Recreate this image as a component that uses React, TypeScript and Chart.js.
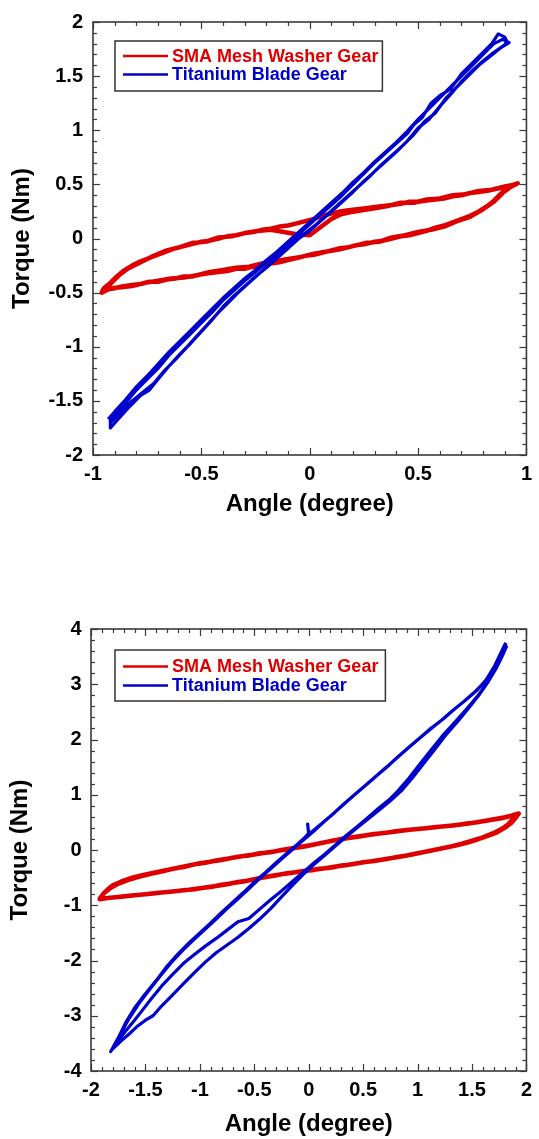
import React, { useEffect, useRef } from "react";
import { Chart, registerables } from "chart.js";

Chart.register(...registerables);

const FONT = '"Liberation Sans", Arial, Helvetica, sans-serif';
const RED = "rgb(222,0,0)";
const BLUE = "rgb(0,0,205)";

const seriesLabels = ["SMA Mesh Washer Gear", "Titanium Blade Gear"];

// ---------- Top chart (±1 degree) ----------
const topXTicks = [-1, -0.5, 0, 0.5, 1];
const topYTicks = [-2, -1.5, -1, -0.5, 0, 0.5, 1, 1.5, 2];

const topRedLower1 = [[-0.96,-0.50],[-0.93,-0.47],[-0.90,-0.46],[-0.86,-0.44],[-0.82,-0.43],[-0.78,-0.42],[-0.74,-0.40],[-0.70,-0.40],[-0.66,-0.38],[-0.62,-0.37],[-0.58,-0.35],[-0.54,-0.35],[-0.50,-0.33],[-0.46,-0.32],[-0.42,-0.31],[-0.38,-0.30],[-0.34,-0.28],[-0.30,-0.28],[-0.26,-0.26],[-0.22,-0.25],[-0.18,-0.23],[-0.14,-0.22],[-0.10,-0.20],[-0.06,-0.18],[-0.02,-0.16],[0.02,-0.15],[0.06,-0.13],[0.10,-0.11],[0.14,-0.09],[0.18,-0.08],[0.22,-0.06],[0.26,-0.05],[0.30,-0.03],[0.34,-0.02],[0.38,0.00],[0.42,0.02],[0.46,0.03],[0.50,0.05],[0.54,0.07],[0.58,0.10],[0.62,0.12],[0.66,0.15],[0.70,0.18],[0.74,0.21],[0.78,0.25],[0.82,0.30],[0.85,0.35],[0.88,0.41],[0.91,0.46],[0.94,0.49],[0.96,0.51]];
const topRedUpper1 = [[0.96,0.51],[0.93,0.49],[0.90,0.47],[0.86,0.46],[0.82,0.44],[0.78,0.43],[0.74,0.42],[0.70,0.40],[0.66,0.39],[0.62,0.37],[0.58,0.36],[0.54,0.35],[0.50,0.34],[0.46,0.34],[0.42,0.32],[0.38,0.31],[0.34,0.30],[0.30,0.29],[0.26,0.28],[0.22,0.27],[0.18,0.26],[0.14,0.25],[0.10,0.23],[0.06,0.21],[0.02,0.18],[-0.02,0.16],[-0.06,0.14],[-0.10,0.12],[-0.14,0.11],[-0.18,0.09],[-0.22,0.08],[-0.26,0.06],[-0.30,0.05],[-0.34,0.03],[-0.38,0.02],[-0.42,0.00],[-0.46,-0.02],[-0.50,-0.03],[-0.54,-0.05],[-0.58,-0.07],[-0.62,-0.09],[-0.66,-0.12],[-0.70,-0.15],[-0.74,-0.18],[-0.78,-0.21],[-0.82,-0.25],[-0.86,-0.30],[-0.89,-0.35],[-0.92,-0.41],[-0.95,-0.46],[-0.96,-0.50]];
const topRedLower2 = [[-0.96,-0.50],[-0.92,-0.46],[-0.87,-0.45],[-0.82,-0.44],[-0.76,-0.41],[-0.70,-0.39],[-0.64,-0.37],[-0.58,-0.36],[-0.52,-0.34],[-0.46,-0.31],[-0.40,-0.29],[-0.34,-0.27],[-0.28,-0.26],[-0.22,-0.23],[-0.16,-0.21],[-0.10,-0.19],[-0.04,-0.17],[0.02,-0.14],[0.08,-0.12],[0.14,-0.10],[0.20,-0.07],[0.26,-0.04],[0.32,-0.03],[0.38,0.01],[0.44,0.03],[0.50,0.06],[0.56,0.08],[0.62,0.11],[0.68,0.16],[0.74,0.20],[0.80,0.27],[0.85,0.34],[0.89,0.42],[0.93,0.48],[0.95,0.50]];
const topRedUpper2 = [[0.95,0.50],[0.90,0.48],[0.84,0.45],[0.78,0.44],[0.72,0.41],[0.66,0.40],[0.60,0.37],[0.54,0.36],[0.48,0.33],[0.42,0.33],[0.36,0.30],[0.30,0.28],[0.24,0.26],[0.18,0.24],[0.14,0.22],[0.10,0.18],[0.06,0.12],[0.02,0.06],[0.00,0.03],[-0.06,0.04],[-0.12,0.06],[-0.18,0.08],[-0.24,0.07],[-0.30,0.05],[-0.36,0.02],[-0.42,0.01],[-0.48,-0.03],[-0.54,-0.04],[-0.60,-0.08],[-0.66,-0.11],[-0.72,-0.16],[-0.78,-0.22],[-0.84,-0.28],[-0.88,-0.34],[-0.92,-0.42],[-0.95,-0.47]];

const topBlueUp1 = [[-0.92,-1.75],[-0.88,-1.66],[-0.83,-1.55],[-0.78,-1.45],[-0.74,-1.40],[-0.70,-1.30],[-0.65,-1.18],[-0.60,-1.07],[-0.55,-0.97],[-0.50,-0.86],[-0.45,-0.75],[-0.40,-0.63],[-0.35,-0.53],[-0.30,-0.44],[-0.25,-0.35],[-0.20,-0.27],[-0.15,-0.18],[-0.10,-0.09],[-0.05,0.00],[0.00,0.07],[0.05,0.16],[0.10,0.25],[0.15,0.34],[0.20,0.43],[0.25,0.53],[0.30,0.62],[0.35,0.71],[0.40,0.80],[0.45,0.90],[0.50,1.02],[0.55,1.10],[0.60,1.22],[0.65,1.33],[0.70,1.45],[0.75,1.55],[0.80,1.64],[0.85,1.72],[0.90,1.79],[0.91,1.82]];
const topBlueDown1 = [[0.91,1.82],[0.90,1.86],[0.87,1.89],[0.84,1.80],[0.80,1.72],[0.75,1.62],[0.70,1.52],[0.65,1.38],[0.60,1.32],[0.56,1.25],[0.52,1.12],[0.48,1.05],[0.45,0.97],[0.40,0.88],[0.35,0.79],[0.30,0.70],[0.25,0.60],[0.20,0.50],[0.15,0.40],[0.10,0.31],[0.05,0.22],[0.00,0.13],[-0.05,0.04],[-0.10,-0.05],[-0.15,-0.14],[-0.20,-0.22],[-0.25,-0.31],[-0.30,-0.39],[-0.35,-0.48],[-0.40,-0.57],[-0.45,-0.68],[-0.50,-0.78],[-0.55,-0.88],[-0.60,-0.98],[-0.65,-1.08],[-0.70,-1.20],[-0.75,-1.30],[-0.80,-1.40],[-0.85,-1.52],[-0.90,-1.62],[-0.92,-1.68],[-0.92,-1.75]];
const topBlueUp2 = [[-0.92,-1.70],[-0.87,-1.60],[-0.82,-1.50],[-0.77,-1.42],[-0.72,-1.34],[-0.67,-1.22],[-0.62,-1.12],[-0.57,-1.01],[-0.52,-0.90],[-0.47,-0.79],[-0.42,-0.68],[-0.37,-0.58],[-0.32,-0.48],[-0.27,-0.39],[-0.22,-0.30],[-0.17,-0.21],[-0.12,-0.12],[-0.07,-0.03],[-0.02,0.05],[0.03,0.13],[0.08,0.22],[0.13,0.31],[0.18,0.40],[0.23,0.49],[0.28,0.58],[0.33,0.68],[0.38,0.77],[0.43,0.86],[0.48,0.96],[0.53,1.08],[0.58,1.16],[0.63,1.30],[0.68,1.40],[0.73,1.50],[0.78,1.60],[0.83,1.68],[0.88,1.76],[0.92,1.81]];
const topBlueDown2 = [[0.92,1.81],[0.89,1.84],[0.85,1.80],[0.80,1.70],[0.75,1.60],[0.70,1.50],[0.65,1.40],[0.60,1.30],[0.55,1.20],[0.50,1.10],[0.45,0.99],[0.40,0.89],[0.35,0.80],[0.30,0.71],[0.25,0.61],[0.20,0.52],[0.15,0.42],[0.10,0.33],[0.05,0.24],[0.00,0.15],[-0.05,0.06],[-0.10,-0.03],[-0.15,-0.12],[-0.20,-0.20],[-0.25,-0.29],[-0.30,-0.37],[-0.35,-0.46],[-0.40,-0.55],[-0.45,-0.65],[-0.50,-0.75],[-0.55,-0.85],[-0.60,-0.95],[-0.65,-1.05],[-0.70,-1.16],[-0.75,-1.27],[-0.80,-1.37],[-0.85,-1.49],[-0.90,-1.60],[-0.93,-1.67]];

// ---------- Bottom chart (±2 degree) ----------
const botXTicks = [-2, -1.5, -1, -0.5, 0, 0.5, 1, 1.5, 2];
const botYTicks = [-4, -3, -2, -1, 0, 1, 2, 3, 4];

const botRedUpper1 = [[-1.92,-0.89],[-1.89,-0.80],[-1.85,-0.72],[-1.80,-0.64],[-1.72,-0.57],[-1.62,-0.50],[-1.52,-0.45],[-1.40,-0.40],[-1.30,-0.36],[-1.20,-0.32],[-1.10,-0.28],[-1.00,-0.24],[-0.90,-0.21],[-0.80,-0.18],[-0.70,-0.14],[-0.60,-0.11],[-0.50,-0.08],[-0.40,-0.05],[-0.30,-0.02],[-0.20,0.01],[-0.10,0.05],[0.00,0.08],[0.10,0.12],[0.20,0.16],[0.30,0.20],[0.40,0.23],[0.50,0.26],[0.60,0.29],[0.70,0.31],[0.80,0.34],[0.90,0.36],[1.00,0.38],[1.10,0.40],[1.20,0.42],[1.30,0.44],[1.40,0.46],[1.50,0.49],[1.60,0.52],[1.70,0.55],[1.78,0.58],[1.86,0.62],[1.93,0.66]];
const botRedLower1 = [[1.93,0.66],[1.90,0.58],[1.86,0.49],[1.80,0.40],[1.73,0.32],[1.65,0.26],[1.55,0.19],[1.45,0.13],[1.35,0.08],[1.25,0.04],[1.15,0.00],[1.05,-0.04],[0.95,-0.08],[0.85,-0.12],[0.75,-0.15],[0.65,-0.18],[0.55,-0.21],[0.45,-0.24],[0.35,-0.27],[0.25,-0.30],[0.15,-0.33],[0.05,-0.36],[-0.05,-0.38],[-0.15,-0.41],[-0.25,-0.44],[-0.35,-0.47],[-0.45,-0.51],[-0.55,-0.55],[-0.65,-0.58],[-0.75,-0.62],[-0.85,-0.65],[-0.95,-0.68],[-1.05,-0.71],[-1.15,-0.73],[-1.25,-0.75],[-1.35,-0.77],[-1.45,-0.79],[-1.55,-0.81],[-1.65,-0.83],[-1.75,-0.85],[-1.85,-0.87],[-1.92,-0.89]];
const botRedUpper2 = [[-1.92,-0.88],[-1.88,-0.78],[-1.83,-0.70],[-1.76,-0.62],[-1.67,-0.55],[-1.57,-0.49],[-1.45,-0.43],[-1.35,-0.39],[-1.25,-0.34],[-1.15,-0.31],[-1.05,-0.26],[-0.95,-0.23],[-0.85,-0.19],[-0.75,-0.16],[-0.65,-0.12],[-0.55,-0.10],[-0.45,-0.06],[-0.35,-0.04],[-0.25,0.00],[-0.15,0.03],[-0.05,0.06],[0.05,0.10],[0.15,0.14],[0.25,0.18],[0.35,0.21],[0.45,0.24],[0.55,0.27],[0.65,0.30],[0.75,0.32],[0.85,0.35],[0.95,0.37],[1.05,0.39],[1.15,0.41],[1.25,0.43],[1.35,0.45],[1.45,0.48],[1.55,0.50],[1.65,0.54],[1.74,0.57],[1.82,0.60],[1.90,0.64]];
const botRedLower2 = [[1.90,0.64],[1.87,0.55],[1.83,0.46],[1.77,0.38],[1.69,0.30],[1.60,0.23],[1.50,0.17],[1.40,0.11],[1.30,0.06],[1.20,0.02],[1.10,-0.02],[1.00,-0.06],[0.90,-0.10],[0.80,-0.13],[0.70,-0.17],[0.60,-0.20],[0.50,-0.22],[0.40,-0.26],[0.30,-0.28],[0.20,-0.32],[0.10,-0.34],[0.00,-0.37],[-0.10,-0.40],[-0.20,-0.42],[-0.30,-0.46],[-0.40,-0.49],[-0.50,-0.53],[-0.60,-0.57],[-0.70,-0.60],[-0.80,-0.63],[-0.90,-0.67],[-1.00,-0.69],[-1.10,-0.72],[-1.20,-0.74],[-1.30,-0.76],[-1.40,-0.78],[-1.50,-0.80],[-1.60,-0.82],[-1.70,-0.84],[-1.80,-0.86],[-1.90,-0.88]];

const botBlueDown1 = [[1.81,3.75],[1.76,3.55],[1.70,3.30],[1.62,3.05],[1.52,2.85],[1.42,2.68],[1.32,2.52],[1.22,2.35],[1.12,2.20],[1.02,2.03],[0.92,1.86],[0.82,1.69],[0.72,1.51],[0.62,1.34],[0.52,1.17],[0.42,1.00],[0.32,0.83],[0.22,0.65],[0.12,0.48],[0.04,0.35],[0.00,0.29],[-0.01,0.47],[0.00,0.30],[-0.04,0.22],[-0.10,0.11],[-0.20,-0.06],[-0.30,-0.23],[-0.40,-0.41],[-0.50,-0.58],[-0.60,-0.77],[-0.70,-0.95],[-0.80,-1.13],[-0.90,-1.32],[-1.00,-1.50],[-1.10,-1.68],[-1.20,-1.88],[-1.30,-2.10],[-1.40,-2.36],[-1.50,-2.60],[-1.60,-2.86],[-1.68,-3.12],[-1.75,-3.40],[-1.82,-3.65]];
const botBlueUp1 = [[-1.82,-3.65],[-1.75,-3.45],[-1.68,-3.27],[-1.60,-3.08],[-1.52,-2.88],[-1.45,-2.70],[-1.35,-2.46],[-1.25,-2.25],[-1.15,-2.05],[-1.05,-1.89],[-0.95,-1.74],[-0.85,-1.60],[-0.75,-1.45],[-0.65,-1.30],[-0.55,-1.24],[-0.45,-1.07],[-0.35,-0.90],[-0.25,-0.74],[-0.15,-0.57],[-0.05,-0.40],[0.05,-0.23],[0.15,-0.07],[0.25,0.10],[0.35,0.27],[0.45,0.43],[0.55,0.60],[0.65,0.77],[0.75,0.93],[0.82,1.07],[0.92,1.30],[1.02,1.55],[1.12,1.80],[1.23,2.07],[1.35,2.33],[1.45,2.55],[1.55,2.78],[1.63,3.00],[1.70,3.22],[1.76,3.45],[1.81,3.72]];
const botBlueDown2 = [[1.81,3.72],[1.77,3.58],[1.71,3.34],[1.63,3.08],[1.54,2.88],[1.44,2.71],[1.34,2.55],[1.24,2.38],[1.14,2.22],[1.04,2.06],[0.94,1.89],[0.84,1.72],[0.74,1.54],[0.64,1.37],[0.54,1.20],[0.44,1.03],[0.34,0.86],[0.24,0.68],[0.14,0.51],[0.04,0.33],[-0.06,0.16],[-0.16,-0.01],[-0.26,-0.18],[-0.36,-0.36],[-0.46,-0.53],[-0.56,-0.72],[-0.66,-0.90],[-0.76,-1.08],[-0.86,-1.27],[-0.96,-1.45],[-1.06,-1.63],[-1.16,-1.82],[-1.26,-2.03],[-1.36,-2.27],[-1.46,-2.52],[-1.56,-2.78],[-1.65,-3.05],[-1.73,-3.33],[-1.80,-3.60]];
const botBlueUp2 = [[-1.80,-3.60],[-1.72,-3.45],[-1.65,-3.33],[-1.58,-3.20],[-1.50,-3.08],[-1.43,-3.00],[-1.35,-2.82],[-1.25,-2.62],[-1.15,-2.42],[-1.05,-2.22],[-0.95,-2.03],[-0.85,-1.86],[-0.75,-1.72],[-0.65,-1.58],[-0.55,-1.42],[-0.45,-1.25],[-0.35,-1.06],[-0.25,-0.85],[-0.15,-0.64],[-0.05,-0.44],[0.05,-0.26],[0.15,-0.09],[0.25,0.08],[0.35,0.25],[0.45,0.41],[0.55,0.57],[0.65,0.73],[0.75,0.89],[0.85,1.07],[0.95,1.30],[1.05,1.55],[1.15,1.80],[1.25,2.06],[1.37,2.33],[1.47,2.57],[1.57,2.82],[1.65,3.05],[1.72,3.28],[1.78,3.52],[1.82,3.70]];

const toXY = (...parts: number[][][]) =>
  parts.flat().map(([x, y]) => ({ x, y }));

const framePlugin = {
  id: "frame",
  afterDatasetsDraw(chart: any, _args: any, o: any) {
    const { ctx, chartArea: a, scales } = chart;
    const xs = scales.x;
    const ys = scales.y;
    ctx.save();
    ctx.strokeStyle = "#3a3a3a";
    const seg = (x1: number, y1: number, x2: number, y2: number) => {
      ctx.beginPath();
      ctx.moveTo(x1, y1);
      ctx.lineTo(x2, y2);
      ctx.stroke();
    };
    const isMajor = (v: number, m: number) =>
      Math.abs(v / m - Math.round(v / m)) < 1e-6;
    ctx.lineWidth = 1.2;
    const nx = Math.round((xs.max - xs.min) / o.xMinor);
    for (let i = 0; i <= nx; i++) {
      const v = xs.min + i * o.xMinor;
      const len = isMajor(v, o.xMajor) ? 7 : 4;
      const p = Math.round(xs.getPixelForValue(v)) + 0.5;
      seg(p, a.bottom, p, a.bottom - len);
      seg(p, a.top, p, a.top + len);
    }
    const ny = Math.round((ys.max - ys.min) / o.yMinor);
    for (let i = 0; i <= ny; i++) {
      const v = ys.min + i * o.yMinor;
      const len = isMajor(v, o.yMajor) ? 7 : 4;
      const p = Math.round(ys.getPixelForValue(v)) + 0.5;
      seg(a.left, p, a.left + len, p);
      seg(a.right, p, a.right - len, p);
    }
    ctx.lineWidth = 1.6;
    ctx.strokeRect(a.left, a.top, a.right - a.left, a.bottom - a.top);
    ctx.restore();
  },
};

const legendPlugin = {
  id: "boxLegend",
  afterDraw(chart: any, _args: any, o: any) {
    const { ctx, chartArea: a } = chart;
    const x0 = a.left + o.dx;
    const y0 = a.top + o.dy;
    ctx.save();
    ctx.font = `bold ${o.size}px ${FONT}`;
    const items = chart.data.datasets
      .slice()
      .sort((p: any, q: any) => p.legendIndex - q.legendIndex)
      .map((d: any) => ({ label: d.label, color: d.borderColor }));
    const tw = Math.max(...items.map((i: any) => ctx.measureText(i.label).width));
    const w = o.textX + tw + o.padR;
    ctx.fillStyle = "#ffffff";
    ctx.fillRect(x0, y0, w, o.h);
    ctx.strokeStyle = "#333333";
    ctx.lineWidth = 1.5;
    ctx.strokeRect(x0, y0, w, o.h);
    items.forEach((it: any, i: number) => {
      const y = y0 + o.row0 + i * o.rowGap;
      ctx.strokeStyle = it.color;
      ctx.lineWidth = 2.5;
      ctx.beginPath();
      ctx.moveTo(x0 + o.lineX0, y);
      ctx.lineTo(x0 + o.lineX1, y);
      ctx.stroke();
      ctx.fillStyle = it.color;
      ctx.textBaseline = "middle";
      ctx.textAlign = "left";
      ctx.fillText(it.label, x0 + o.textX, y + 1);
    });
    ctx.restore();
  },
};

type PanelSpec = {
  height: number;
  red: { x: number; y: number }[];
  blue: { x: number; y: number }[];
  xTicks: number[];
  yTicks: number[];
  xMinor: number;
  yMinor: number;
  padding: { left: number; right: number; top: number; bottom: number };
  yWidth: number;
  xHeight: number;
  xTitlePad: number;
  yTitlePad: number;
  yTickPad: number;
  legend: any;
};

function makeConfig(s: PanelSpec): any {
  const tickFont = { family: FONT, size: 20, weight: "bold" as const };
  const titleFont = { family: FONT, size: 24, weight: "bold" as const };
  return {
    type: "scatter",
    data: {
      datasets: [
        {
          label: seriesLabels[0],
          data: s.red,
          showLine: true,
          borderColor: RED,
          backgroundColor: RED,
          borderWidth: 4.5,
          borderJoinStyle: "round",
          pointRadius: 0,
          tension: 0,
          fill: false,
          order: 2,
          legendIndex: 0,
        },
        {
          label: seriesLabels[1],
          data: s.blue,
          showLine: true,
          borderColor: BLUE,
          backgroundColor: BLUE,
          borderWidth: 3.2,
          borderJoinStyle: "round",
          pointRadius: 0,
          tension: 0,
          fill: false,
          order: 1,
          legendIndex: 1,
        },
      ],
    },
    options: {
      animation: false,
      responsive: false,
      maintainAspectRatio: false,
      devicePixelRatio: 1,
      layout: { padding: s.padding },
      plugins: {
        legend: { display: false },
        tooltip: { enabled: false },
        frame: {
          xMinor: s.xMinor,
          xMajor: s.xTicks[1] - s.xTicks[0],
          yMinor: s.yMinor,
          yMajor: s.yTicks[1] - s.yTicks[0],
        },
        boxLegend: s.legend,
      },
      scales: {
        x: {
          type: "linear",
          min: s.xTicks[0],
          max: s.xTicks[s.xTicks.length - 1],
          grid: { display: false, drawTicks: false },
          border: { display: false },
          afterBuildTicks: (sc: any) => {
            sc.ticks = s.xTicks.map((v) => ({ value: v }));
          },
          afterFit: (sc: any) => {
            sc.height = s.xHeight;
          },
          ticks: {
            font: tickFont,
            color: "#000",
            padding: 7,
            maxRotation: 0,
            autoSkip: false,
            callback: (v: any) => String(v),
          },
          title: {
            display: true,
            text: "Angle (degree)",
            font: titleFont,
            color: "#000",
            padding: { top: 0, bottom: s.xTitlePad },
          },
        },
        y: {
          type: "linear",
          min: s.yTicks[0],
          max: s.yTicks[s.yTicks.length - 1],
          grid: { display: false, drawTicks: false },
          border: { display: false },
          afterBuildTicks: (sc: any) => {
            sc.ticks = s.yTicks.map((v) => ({ value: v }));
          },
          afterFit: (sc: any) => {
            sc.width = s.yWidth;
          },
          ticks: {
            font: tickFont,
            color: "#000",
            padding: s.yTickPad,
            autoSkip: false,
            callback: (v: any) => String(v),
          },
          title: {
            display: true,
            text: "Torque (Nm)",
            font: titleFont,
            color: "#000",
            padding: { top: s.yTitlePad, bottom: 0 },
          },
        },
      },
    },
    plugins: [framePlugin, legendPlugin],
  };
}

const topSpec: PanelSpec = {
  height: 560,
  red: toXY(topRedLower1, topRedUpper1, topRedLower2, topRedUpper2),
  blue: toXY(topBlueUp1, topBlueDown1, topBlueUp2, topBlueDown2),
  xTicks: topXTicks,
  yTicks: topYTicks,
  xMinor: 0.1,
  yMinor: 0.1,
  padding: { left: 0, right: 11, top: 19, bottom: 35 },
  yWidth: 93,
  xHeight: 70,
  xTitlePad: 6,
  yTitlePad: 8,
  yTickPad: 10,
  legend: { dx: 22, dy: 19, h: 50, row0: 15, rowGap: 18.5, lineX0: 8, lineX1: 53, textX: 57, padR: 4, size: 18 },
};

const bottomSpec: PanelSpec = {
  height: 579,
  red: toXY(botRedUpper1, botRedLower1, botRedUpper2, botRedLower2),
  blue: toXY(botBlueDown1, botBlueUp1, botBlueDown2, botBlueUp2),
  xTicks: botXTicks,
  yTicks: botYTicks,
  xMinor: 0.1,
  yMinor: 0.2,
  padding: { left: 0, right: 9, top: 69, bottom: 0 },
  yWidth: 91,
  xHeight: 68,
  xTitlePad: 0,
  yTitlePad: 6,
  yTickPad: 9.5,
  legend: { dx: 24, dy: 21, h: 51, row0: 16.5, rowGap: 19, lineX0: 8, lineX1: 53, textX: 57, padR: 7, size: 18 },
};

function Panel({ spec, top }: { spec: PanelSpec; top: number }) {
  const ref = useRef<HTMLCanvasElement | null>(null);
  useEffect(() => {
    if (!ref.current) return;
    const chart = new Chart(ref.current, makeConfig(spec));
    return () => chart.destroy();
  }, [spec]);
  return (
    <canvas
      ref={ref}
      width={539}
      height={spec.height}
      style={{ position: "absolute", left: 0, top, width: 539, height: spec.height, display: "block" }}
    />
  );
}

export default function App() {
  return (
    <div style={{ position: "absolute", left: 0, top: 0, width: 539, height: 1139, background: "#fff", overflow: "hidden" }}>
      <Panel spec={topSpec} top={0} />
      <Panel spec={bottomSpec} top={560} />
    </div>
  );
}
